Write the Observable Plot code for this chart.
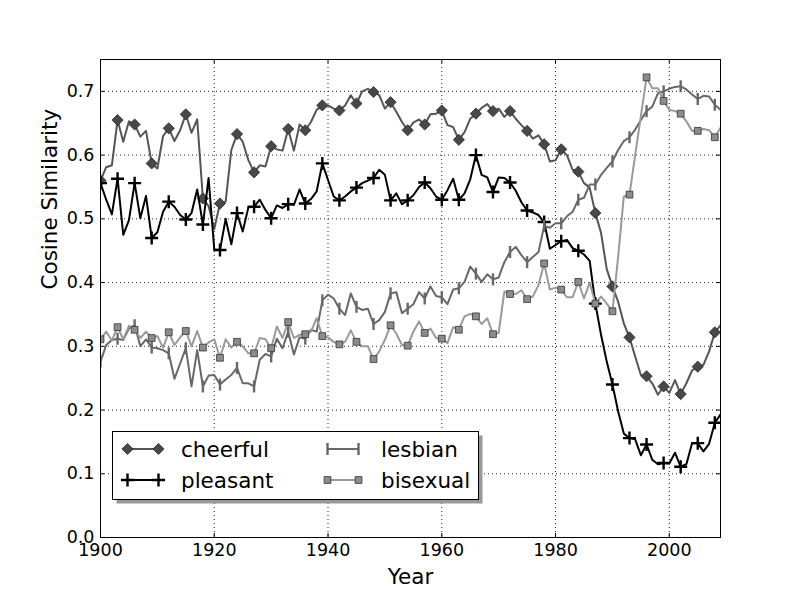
<!DOCTYPE html>
<html>
<head>
<meta charset="utf-8">
<script src="https://cdn.jsdelivr.net/npm/d3@7"></script>
<script src="https://cdn.jsdelivr.net/npm/@observablehq/plot@0.6"></script>
<style>
  body { margin: 0; background: #fff; font-family: "DejaVu Sans", sans-serif; }
  #wrap { position: relative; width: 800px; height: 597px; background: #fff; }
  #wrap svg { display: block; }
</style>
</head>
<body>
<div id="wrap"></div>
<script>
// ---------- data ----------
const startYear = 1900;
const seriesNames = ["cheerful", "pleasant", "lesbian", "bisexual"];
const xTicks = [1900, 1920, 1940, 1960, 1980, 2000];
const yTicks = [0.0, 0.1, 0.2, 0.3, 0.4, 0.5, 0.6, 0.7];

const cheerful = [
  0.560,0.581,0.584,0.655,0.621,0.653,0.648,0.629,0.638,0.587,
  0.579,0.630,0.642,0.622,0.639,0.664,0.635,0.656,0.532,0.520,
  0.484,0.524,0.527,0.608,0.633,0.621,0.592,0.573,0.584,0.582,
  0.614,0.609,0.607,0.641,0.607,0.648,0.639,0.652,0.671,0.678,
  0.678,0.673,0.670,0.678,0.694,0.681,0.700,0.704,0.699,0.694,
  0.673,0.683,0.668,0.652,0.639,0.651,0.656,0.648,0.664,0.665,
  0.670,0.647,0.644,0.624,0.636,0.657,0.665,0.674,0.680,0.669,
  0.673,0.660,0.669,0.657,0.647,0.638,0.626,0.631,0.617,0.590,
  0.592,0.609,0.600,0.577,0.574,0.556,0.549,0.509,0.478,0.421,
  0.394,0.370,0.336,0.314,0.284,0.255,0.253,0.242,0.224,0.237,
  0.227,0.247,0.225,0.242,0.262,0.268,0.271,0.292,0.322,0.333
];
const pleasant = [
  0.556,0.530,0.507,0.563,0.475,0.498,0.556,0.501,0.536,0.470,
  0.479,0.511,0.527,0.519,0.506,0.499,0.509,0.546,0.491,0.564,
  0.452,0.451,0.500,0.460,0.509,0.480,0.518,0.519,0.530,0.514,
  0.501,0.521,0.517,0.523,0.522,0.546,0.524,0.531,0.543,0.587,
  0.561,0.535,0.529,0.535,0.543,0.549,0.556,0.560,0.564,0.577,
  0.569,0.529,0.540,0.523,0.529,0.537,0.550,0.557,0.548,0.535,
  0.530,0.545,0.563,0.530,0.540,0.562,0.600,0.569,0.565,0.542,
  0.565,0.564,0.557,0.544,0.526,0.513,0.510,0.506,0.495,0.453,
  0.459,0.465,0.467,0.454,0.450,0.444,0.434,0.367,0.318,0.276,
  0.240,0.198,0.163,0.156,0.154,0.129,0.146,0.122,0.115,0.117,
  0.116,0.133,0.111,0.115,0.148,0.148,0.135,0.147,0.180,0.193
];
const lesbian = [
  0.276,0.302,0.310,0.312,0.310,0.328,0.333,0.300,0.311,0.298,
  0.297,0.294,0.289,0.249,0.273,0.297,0.237,0.294,0.237,0.254,
  0.255,0.240,0.248,0.255,0.266,0.242,0.242,0.237,0.279,0.288,
  0.284,0.312,0.297,0.323,0.287,0.314,0.312,0.326,0.323,0.372,
  0.381,0.375,0.359,0.349,0.383,0.362,0.357,0.359,0.335,0.341,
  0.354,0.383,0.385,0.352,0.359,0.366,0.385,0.375,0.394,0.379,
  0.377,0.366,0.389,0.391,0.401,0.425,0.414,0.401,0.413,0.405,
  0.408,0.432,0.448,0.456,0.443,0.432,0.440,0.448,0.489,0.486,
  0.493,0.493,0.504,0.511,0.530,0.533,0.554,0.554,0.569,0.580,
  0.590,0.608,0.622,0.628,0.640,0.655,0.669,0.676,0.697,0.700,
  0.704,0.707,0.708,0.703,0.695,0.688,0.693,0.692,0.679,0.671
];
const bisexual = [
  0.311,0.323,0.309,0.330,0.311,0.332,0.326,0.313,0.323,0.313,
  0.316,0.298,0.322,0.302,0.314,0.324,0.300,0.324,0.298,0.306,
  0.311,0.282,0.311,0.298,0.307,0.300,0.289,0.289,0.313,0.311,
  0.297,0.331,0.313,0.338,0.313,0.318,0.319,0.323,0.344,0.316,
  0.314,0.307,0.303,0.307,0.325,0.307,0.300,0.300,0.280,0.292,
  0.310,0.333,0.320,0.302,0.301,0.323,0.339,0.321,0.328,0.313,
  0.312,0.305,0.330,0.326,0.347,0.351,0.347,0.335,0.344,0.319,
  0.321,0.386,0.382,0.382,0.388,0.374,0.378,0.396,0.430,0.389,
  0.392,0.389,0.377,0.377,0.401,0.375,0.400,0.367,0.378,0.367,
  0.355,0.440,0.535,0.538,0.600,0.661,0.722,0.705,0.705,0.685,
  0.671,0.669,0.665,0.653,0.638,0.638,0.641,0.639,0.628,0.643
];

// ---------- marker symbols (matplotlib-like) ----------
const rad = s => Math.sqrt(s / Math.PI);
const symDiamond = {draw(c, s) { const r = rad(s); c.moveTo(0,-r); c.lineTo(r,0); c.lineTo(0,r); c.lineTo(-r,0); c.closePath(); }};
const symPlus = {draw(c, s) { const r = rad(s); c.moveTo(-r,0); c.lineTo(r,0); c.moveTo(0,-r); c.lineTo(0,r); }};
const symVline = {draw(c, s) { const r = rad(s); c.moveTo(0,-r); c.lineTo(0,r); }};
const symSquare = {draw(c, s) { const r = rad(s); c.moveTo(-r,-r); c.lineTo(r,-r); c.lineTo(r,r); c.lineTo(-r,r); c.closePath(); }};

const styles = {
  cheerful: {line: "#555555", symbol: symDiamond, r: 5.6, fill: "#484848", stroke: "#2a2a2a", sw: 0.8},
  pleasant: {line: "#000000", symbol: symPlus,    r: 6.5, fill: "none",    stroke: "#000000", sw: 2.4},
  lesbian:  {line: "#686868", symbol: symVline,   r: 6.0, fill: "none",    stroke: "#686868", sw: 2.4},
  bisexual: {line: "#9a9a9a", symbol: symSquare,  r: 3.4, fill: "#8c8c8c", stroke: "#333333", sw: 0.8}
};

const valuesBy = {cheerful, pleasant, lesbian, bisexual};
const rowsBy = {};
for (const name of seriesNames) {
  rowsBy[name] = valuesBy[name].map((v, i) => ({year: startYear + i, value: v, i}));
}

// ---------- layout ----------
const W = 800, H = 597, mL = 100, mR = 80, mT = 59, mB = 60;
const plotW = W - mL - mR, plotH = H - mT - mB;

const marks = [
  Plot.ruleX(xTicks.filter(d => d > 1900), {x: d => d, stroke: "#000", strokeWidth: 1, strokeDasharray: "1,3", strokeOpacity: 0.85}),
  Plot.ruleY(yTicks.filter(d => d > 0), {y: d => d, stroke: "#000", strokeWidth: 1, strokeDasharray: "1,3", strokeOpacity: 0.85})
];
for (const name of seriesNames) {
  const st = styles[name];
  marks.push(Plot.line(rowsBy[name], {x: "year", y: "value", stroke: st.line, strokeWidth: 2, clip: true, curve: "linear"}));
  marks.push(Plot.dot(rowsBy[name].filter(d => d.i % 3 === 0), {
    x: "year", y: "value", symbol: st.symbol, r: st.r,
    fill: st.fill, stroke: st.stroke, strokeWidth: st.sw, clip: true
  }));
}
marks.push(
  // inward ticks on all four sides
  Plot.tickX(xTicks, {x: d => d, insetTop: plotH - 4, stroke: "#000", strokeWidth: 1}),
  Plot.tickX(xTicks, {x: d => d, insetBottom: plotH - 4, stroke: "#000", strokeWidth: 1}),
  Plot.tickY(yTicks, {y: d => d, insetRight: plotW - 4, stroke: "#000", strokeWidth: 1}),
  Plot.tickY(yTicks, {y: d => d, insetLeft: plotW - 4, stroke: "#000", strokeWidth: 1}),
  Plot.frame({stroke: "#000", strokeWidth: 1}),
  Plot.axisX({ticks: xTicks, tickSize: 0, tickPadding: 6, tickFormat: d => String(d), fontSize: 17.5, label: null}),
  Plot.axisY({ticks: yTicks, tickSize: 0, tickPadding: 6, tickFormat: d3.format(".1f"), fontSize: 17.5, label: null}),
  Plot.text(["Year"], {frameAnchor: "bottom", dy: 40, fontSize: 21.5, lineAnchor: "middle", fill: "#000"}),
  Plot.text(["Cosine Similarity"], {frameAnchor: "left", dx: -50, dy: -9, rotate: -90, fontSize: 21.5, lineAnchor: "middle", fill: "#000"})
);

const chart = Plot.plot({
  width: W, height: H,
  marginLeft: mL, marginRight: mR, marginTop: mT, marginBottom: mB,
  style: {fontFamily: "DejaVu Sans, sans-serif", background: "#fff", color: "#000", overflow: "visible"},
  x: {domain: [1900, 2009]},
  y: {domain: [0, 0.75]},
  marks
});
document.getElementById("wrap").appendChild(chart);

// ---------- legend (inside the axes, like matplotlib) ----------
const lg = d3.select("#wrap").append("svg")
  .attr("width", W).attr("height", H)
  .style("position", "absolute").style("left", "0px").style("top", "0px")
  .style("pointer-events", "none")
  .style("font-family", "DejaVu Sans, sans-serif");
const box = {x: 112.5, y: 431.5, w: 366, h: 68};
lg.append("rect").attr("x", box.x + 4).attr("y", box.y + 4).attr("width", box.w).attr("height", box.h).attr("fill", "#999");
lg.append("rect").attr("x", box.x).attr("y", box.y).attr("width", box.w).attr("height", box.h).attr("fill", "#fff").attr("stroke", "#000").attr("stroke-width", 1);

const legendItems = [
  {name: "cheerful", col: 0, row: 0},
  {name: "pleasant", col: 0, row: 1},
  {name: "lesbian",  col: 1, row: 0},
  {name: "bisexual", col: 1, row: 1}
];
const colX = [127.5, 327.5], handleLen = 31, textX = [181, 381], rowY = [449, 480];
for (const it of legendItems) {
  const st = styles[it.name];
  const x0 = colX[it.col], x1 = x0 + handleLen, y = rowY[it.row];
  lg.append("line").attr("x1", x0).attr("x2", x1).attr("y1", y).attr("y2", y)
    .attr("stroke", st.line).attr("stroke-width", 2);
  const p = d3.symbol(st.symbol, Math.PI * st.r * st.r)();
  for (const xx of [x0, x1]) {
    lg.append("path").attr("d", p).attr("transform", `translate(${xx},${y})`)
      .attr("fill", st.fill).attr("stroke", st.stroke).attr("stroke-width", st.sw);
  }
  lg.append("text").attr("x", textX[it.col]).attr("y", y + 7.5)
    .attr("font-size", 21.5).attr("fill", "#000").text(it.name);
}
</script>
</body>
</html>
